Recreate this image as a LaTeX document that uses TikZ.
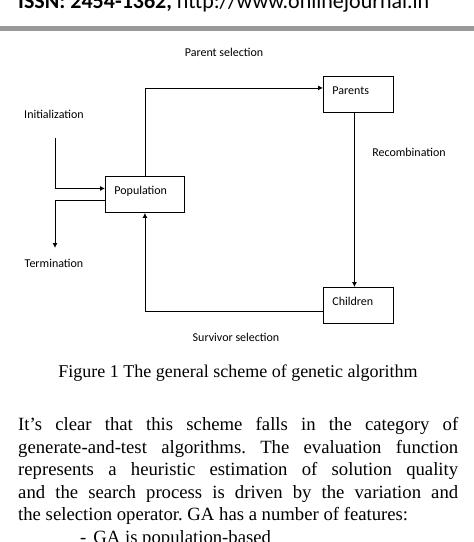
\documentclass[tikz,border=0pt]{standalone}
\usepackage{fontspec}
\setmainfont{Liberation Serif}
\newfontfamily\diagfont{Carlito}
\usetikzlibrary{arrows.meta}
\frenchspacing
\tikzset{
  box/.style={draw=black, line width=0.9pt, anchor=north west, minimum width=#1, minimum height=36pt,
    text width=#1-18pt, align=left, inner xsep=9pt, inner ysep=0pt,
    text height=8pt, text depth=8pt, font=\diagfont\fontsize{12}{14}\selectfont},
  lbl/.style={inner sep=0pt, font=\diagfont\fontsize{12}{14}\selectfont},
  conn/.style={line width=0.9pt, draw=black},
  arr/.style={conn, -{Latex[length=5pt,width=5pt]}},
}
\begin{document}
\begin{tikzpicture}[x=1pt,y=-1pt]
\useasboundingbox (0,0) rectangle (474,542);
\clip (0,0) rectangle (474,542);
% header
\node[anchor=base west, inner sep=0pt, font=\diagfont\fontsize{22}{26}\selectfont] (hdr) at (18,8)
  {\textbf{ISSN: 2454-1362,} http://www.onlinejournal.in};
\draw[line width=4.5pt, draw=black!40] (0,28.5) -- (474,28.5);
% boxes
\node[box=79pt] (pop) at (105,176) {Population};
\node[box=70pt] (par) at (323,76) {Parents};
\node[box=70pt] (chi) at (323,287) {Children};
% labels
\node[lbl] (psel) at (224,52) {Parent selection};
\node[lbl] (rec) at (409,152) {Recombination};
\node[lbl] (ssel) at (236,337) {Survivor selection};
\node[lbl] (init) at (54,114) {Initialization};
\node[lbl] (term) at (54,263) {Termination};
\coordinate (istart) at (55,138);
\coordinate (tend) at (55,248);
% connectors
\draw[arr] (istart) |- ([yshift=6pt]pop.west);
\draw[arr] ([yshift=-6pt]pop.west) -| (tend);
\draw[arr] (pop.north) |- ([yshift=6.5pt]par.west);
\draw[arr] ([xshift=-4pt]par.south) -- ([xshift=-4pt]chi.north);
\draw[arr] ([yshift=-5.5pt]chi.west) -| (pop.south);
% caption
\node[inner sep=0pt, font=\fontsize{18}{21}\selectfont] (cap) at (238,373)
  {Figure 1 The general scheme of genetic algorithm};
% paragraph (base anchor = baseline of last line)
\node[anchor=base west, inner sep=0pt, align=left, font=\fontsize{18.7}{22.5}\selectfont] (para) at (18,543)
  {\makebox[440pt][s]{It’s clear that this scheme falls in the category of}\\
   \makebox[440pt][s]{generate-and-test algorithms. The evaluation function}\\
   \makebox[440pt][s]{represents a heuristic estimation of solution quality}\\
   \makebox[440pt][s]{and the search process is driven by the variation and}\\
   the selection operator. GA has a number of features:\\
   \hspace*{62pt}-\hspace*{7pt}GA is population-based};
\end{tikzpicture}
\end{document}
